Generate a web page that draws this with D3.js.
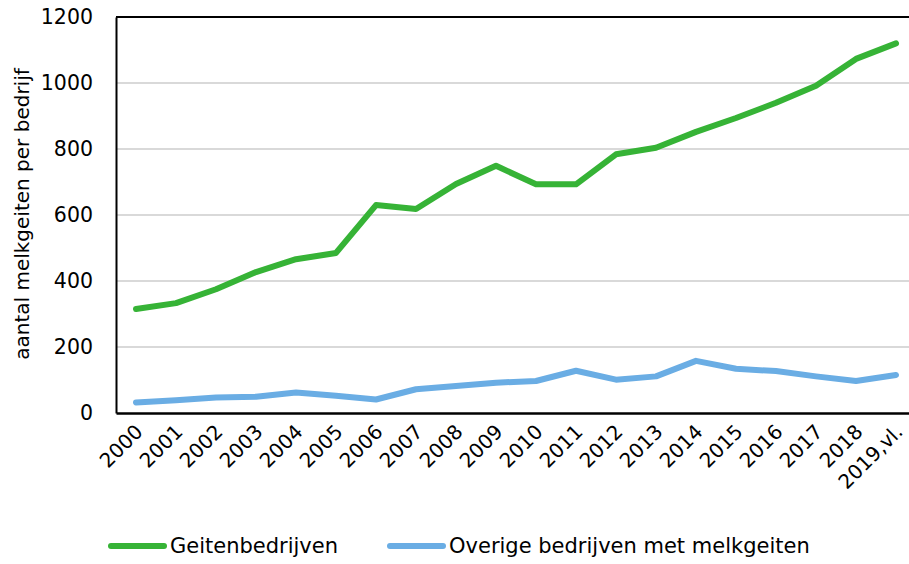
<!DOCTYPE html>
<html>
<head>
<meta charset="utf-8">
<script src="https://cdn.jsdelivr.net/npm/d3@7"></script>
<style>
  body { margin: 0; background: #fff; }
  svg { display: block; font-family: "DejaVu Sans", Verdana, sans-serif; }
</style>
</head>
<body>
<svg id="chart" width="909" height="564"></svg>
<script>
const years = ["2000", "2001", "2002", "2003", "2004", "2005", "2006", "2007", "2008", "2009",
  "2010", "2011", "2012", "2013", "2014", "2015", "2016", "2017", "2018", "2019,vl."];
const geitenbedrijven = [315, 333, 375, 427, 466, 485, 630, 618, 694, 749,
  693, 693, 784, 804, 852, 894, 940, 992, 1073, 1120];
const overige = [32, 39, 47, 49, 62, 52, 41, 72, 82, 92,
  97, 128, 101, 111, 158, 134, 127, 111, 97, 115];
const yTicks = [0, 200, 400, 600, 800, 1000, 1200];

const series = [
  { name: "Geitenbedrijven", values: geitenbedrijven, color: "#36b336" },
  { name: "Overige bedrijven met melkgeiten", values: overige, color: "#6aade4" }
];

const svg = d3.select("#chart");
const plot = { left: 116, right: 916, top: 17, bottom: 413 };

const x = d3.scaleBand().domain(years).range([plot.left, plot.right]);
const y = d3.scaleLinear().domain([0, 1200]).range([plot.bottom, plot.top]);

// gridlines
svg.append("g")
  .selectAll("line")
  .data(yTicks.filter((d) => d > 0 && d < 1200))
  .join("line")
  .attr("x1", plot.left)
  .attr("x2", plot.right)
  .attr("y1", (d) => y(d))
  .attr("y2", (d) => y(d))
  .attr("stroke", "#d9d9d9")
  .attr("stroke-width", 2);

// top border
svg.append("line")
  .attr("x1", plot.left).attr("x2", plot.right)
  .attr("y1", plot.top).attr("y2", plot.top)
  .attr("stroke", "black").attr("stroke-width", 2);

// y axis
const yAxis = svg.append("g")
  .attr("transform", `translate(${plot.left},0)`)
  .call(d3.axisLeft(y).tickValues(yTicks).tickFormat(d3.format("d")).tickSize(0).tickPadding(23));
yAxis.select(".domain").attr("stroke", "black").attr("stroke-width", 2);
yAxis.selectAll("text")
  .attr("font-size", "20.5px")
  .attr("font-family", "DejaVu Sans, Verdana, sans-serif")
  .attr("fill", "#000");

// x axis
const xAxis = svg.append("g")
  .attr("transform", `translate(0,${plot.bottom})`)
  .call(d3.axisBottom(x).tickSize(0).tickPadding(0));
xAxis.select(".domain").attr("stroke", "black").attr("stroke-width", 2.5);
xAxis.selectAll("text")
  .attr("font-size", "20px")
  .attr("font-family", "DejaVu Sans, Verdana, sans-serif")
  .attr("fill", "#000")
  .attr("text-anchor", "end")
  .attr("dy", "0.35em")
  .attr("transform", "translate(3,15) rotate(-45)");

// y axis title
svg.append("text")
  .attr("transform", `translate(29,214) rotate(-90)`)
  .attr("text-anchor", "middle")
  .attr("font-size", "20px")
  .text("aantal melkgeiten per bedrijf");

// lines
const line = d3.line()
  .x((d, i) => x(years[i]) + x.bandwidth() / 2)
  .y((d) => y(d));

svg.append("g")
  .selectAll("path")
  .data(series)
  .join("path")
  .attr("d", (s) => line(s.values))
  .attr("fill", "none")
  .attr("stroke", (s) => s.color)
  .attr("stroke-width", 6)
  .attr("stroke-linejoin", "round")
  .attr("stroke-linecap", "round");

// legend
const legendX = [111, 390];
const legend = svg.append("g")
  .selectAll("g")
  .data(series)
  .join("g")
  .attr("transform", (s, i) => `translate(${legendX[i]},546)`);
legend.append("line")
  .attr("x1", 0).attr("x2", 53)
  .attr("stroke", (s) => s.color)
  .attr("stroke-width", 6)
  .attr("stroke-linecap", "round");
legend.append("text")
  .attr("x", 59)
  .attr("dy", "0.35em")
  .attr("font-size", "21px")
  .text((s) => s.name);
</script>
</body>
</html>
